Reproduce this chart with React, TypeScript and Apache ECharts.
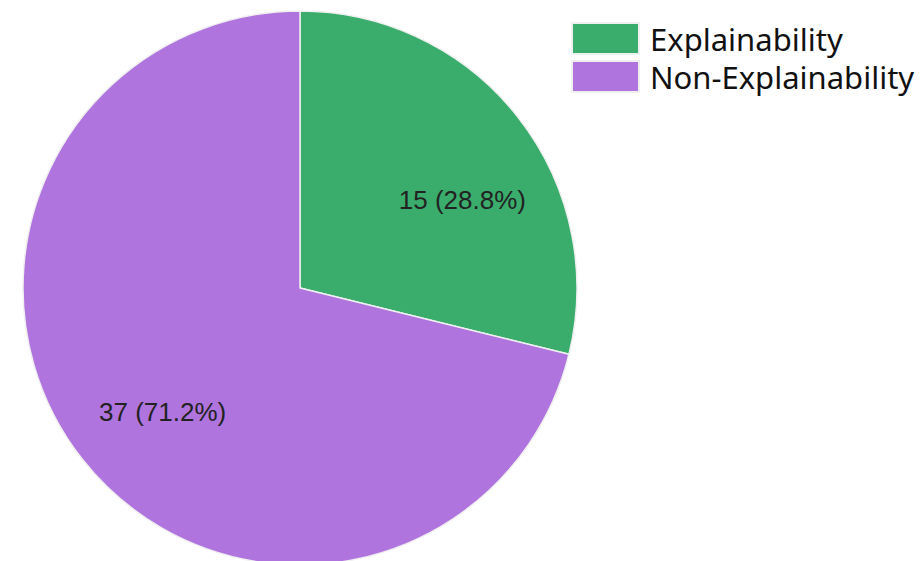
import React, { useEffect, useRef } from "react";
import * as echarts from "echarts";

const categories = ["Explainability", "Non-Explainability"];
const values = [15, 37];
const colors = ["#3aad6d", "#b074de"];

export default function App() {
  const ref = useRef<HTMLDivElement>(null);
  useEffect(() => {
    if (!ref.current) return;
    const chart = echarts.init(ref.current, undefined, { renderer: "svg" });
    const total = values.reduce((a, b) => a + b, 0);
    const labelOffsets = [
      [51, -1],
      [-26, 37],
    ];
    chart.setOption({
      animation: false,
      backgroundColor: "#ffffff",
      legend: {
        orient: "vertical",
        left: 571,
        top: 22,
        padding: 0,
        itemWidth: 67,
        itemHeight: 31,
        itemGap: 5,
        icon: "rect",
        data: categories,
        textStyle: {
          fontFamily: "Noto Sans",
          fontSize: 31,
          color: "#111",
          padding: [0, 0, 0, 6],
        },
      },
      series: [
        {
          type: "pie",
          center: [300, 288],
          radius: 277,
          startAngle: 90,
          clockwise: true,
          color: colors,
          itemStyle: { borderColor: "#f0f0f0", borderWidth: 1.5 },
          label: {
            show: true,
            position: "inner",
            fontFamily: "Liberation Sans",
            fontSize: 26,
            color: "#222",
            formatter: (p: any) =>
              `${p.value} (${((p.value / total) * 100).toFixed(1)}%)`,
          },
          labelLine: { show: false },
          emphasis: { disabled: true },
          data: categories.map((name, i) => ({
            name,
            value: values[i],
            label: { offset: labelOffsets[i] },
          })),
        },
      ],
    });
    return () => chart.dispose();
  }, []);
  return (
    <div
      ref={ref}
      style={{ position: "fixed", left: 0, top: 0, width: 921, height: 561 }}
    />
  );
}
